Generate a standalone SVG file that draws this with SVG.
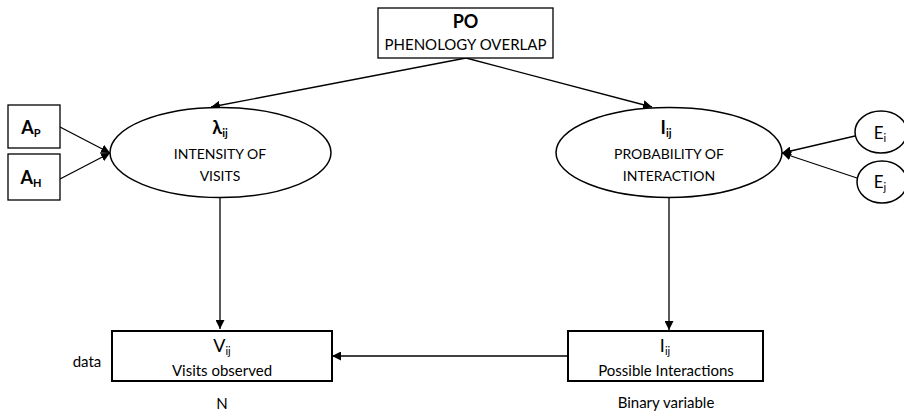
<svg xmlns="http://www.w3.org/2000/svg" width="904" height="414" viewBox="0 0 904 414">
<style>
  .box{fill:#fff;stroke:#000;stroke-width:2}
  .sbox{fill:#fff;stroke:#000;stroke-width:1.3}
  .ell{fill:#fff;stroke:#000;stroke-width:1.5}
  .t{font-family:Lato,"Liberation Sans",sans-serif;fill:#000;text-anchor:middle}
  .b{font-weight:bold}
  .m{font-size:15px}
  .e{font-size:14px}
  .big{font-size:18px}
  .s{font-size:11px}
  .edge{stroke:#000;stroke-width:1.3;fill:none;marker-end:url(#ah)}
</style>
<defs>
  <marker id="ah" viewBox="0 0 10 10" refX="10" refY="5" markerWidth="9" markerHeight="9" markerUnits="userSpaceOnUse" orient="auto">
    <path d="M0,0 L10,5 L0,10 z" fill="#000"/>
  </marker>
</defs>
<g id="edges">
  <line class="edge" x1="466" y1="58" x2="211" y2="107"/>
  <line class="edge" x1="466" y1="58" x2="652" y2="107"/>
  <line class="edge" x1="60" y1="127" x2="110" y2="153"/>
  <line class="edge" x1="60" y1="179" x2="110" y2="153"/>
  <line class="edge" x1="855" y1="136" x2="782" y2="153"/>
  <line class="edge" x1="857" y1="178" x2="782" y2="153"/>
  <line class="edge" x1="220" y1="198" x2="220" y2="329"/>
  <line class="edge" x1="669" y1="198" x2="669" y2="330"/>
  <line class="edge" x1="568" y1="356" x2="332" y2="356"/>
</g>
<g id="PO">
  <rect class="sbox" x="378" y="8" width="175" height="50"/>
  <text class="t b big" x="465.5" y="28">PO</text>
  <text class="t m" x="465.5" y="50">PHENOLOGY OVERLAP</text>
</g>
<g id="AP">
  <rect class="sbox" x="8" y="105" width="52" height="43"/>
  <text class="t b big" x="31" y="134">A<tspan class="s" dy="3">P</tspan></text>
</g>
<g id="AH">
  <rect class="sbox" x="8" y="154" width="52" height="46"/>
  <text class="t b big" x="31" y="184">A<tspan class="s" dy="3">H</tspan></text>
</g>
<g id="lambda">
  <ellipse class="ell" cx="220.5" cy="152.5" rx="110.5" ry="45"/>
  <text class="t b big" x="220" y="134">λ<tspan class="s" dy="3">ij</tspan></text>
  <text class="t e" x="220" y="159">INTENSITY OF</text>
  <text class="t e" x="220" y="181">VISITS</text>
</g>
<g id="Iij">
  <ellipse class="ell" cx="669" cy="152.5" rx="113" ry="45"/>
  <text class="t b big" x="666" y="134">I<tspan class="s" dy="3">ij</tspan></text>
  <text class="t e" x="669" y="159">PROBABILITY OF</text>
  <text class="t e" x="669" y="181">INTERACTION</text>
</g>
<g id="Ei">
  <ellipse class="ell" cx="881" cy="132" rx="26" ry="21"/>
  <text class="t" x="880" y="139" font-size="17" style="font-size:17px">E<tspan class="s" dy="3">i</tspan></text>
</g>
<g id="Ej">
  <ellipse class="ell" cx="882" cy="182" rx="25" ry="21"/>
  <text class="t" x="880" y="188" style="font-size:17px">E<tspan class="s" dy="3">j</tspan></text>
</g>
<g id="V">
  <rect class="box" x="112" y="331" width="220" height="50"/>
  <text class="t" x="222" y="352" style="font-size:18px">V<tspan class="s" dy="3">ij</tspan></text>
  <text class="t m" x="222" y="376">Visits observed</text>
</g>
<g id="I">
  <rect class="box" x="568" y="331" width="195" height="50"/>
  <text class="t" x="665" y="352" style="font-size:18px">I<tspan class="s" dy="3">ij</tspan></text>
  <text class="t m" x="666" y="376">Possible Interactions</text>
</g>
<text class="t m" x="87" y="367">data</text>
<text class="t m" x="222" y="409">N</text>
<text class="t m" x="666" y="408">Binary variable</text>
</svg>
